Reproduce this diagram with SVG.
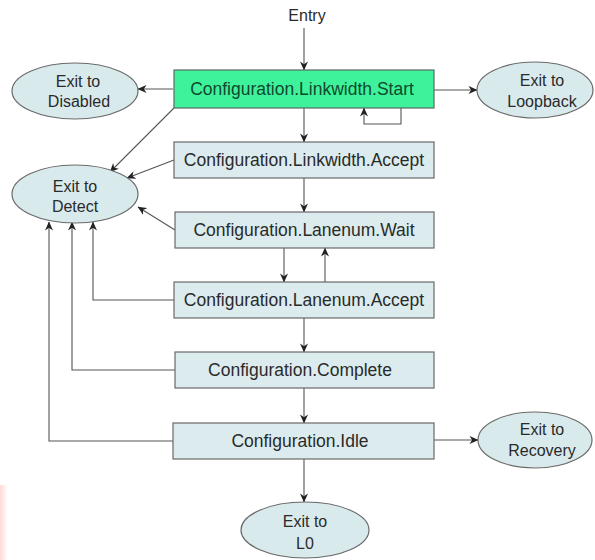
<svg xmlns="http://www.w3.org/2000/svg" width="595" height="560" viewBox="0 0 595 560">
  <style>
    .box { fill: #dcecee; stroke: #6a6a6a; stroke-width: 1.2; }
    .start { fill: #3ef29c; stroke: #5a6a60; stroke-width: 1.2; }
    .exit { fill: #d9eaed; stroke: #6a6a6a; stroke-width: 1.2; }
    .lbl { font-family: "Liberation Sans", Arial, sans-serif; font-size: 16px; fill: #2a2a2a; text-anchor: middle; }
    .state { font-size: 17.5px; }
    .lbl-start { fill: #0f4a2c; }
    .edge { fill: none; stroke: #555; stroke-width: 1.1; }
  </style>
  <defs>
    <marker id="arr" viewBox="0 0 10 10" refX="9.5" refY="5" markerWidth="9" markerHeight="9" markerUnits="userSpaceOnUse" orient="auto">
      <path d="M0,0.5 L10,5 L0,9.5 L3,5 Z" fill="#222"/>
    </marker>
    <linearGradient id="edgeTint" x1="0" y1="0" x2="1" y2="0">
      <stop offset="0" stop-color="#ffd0d0" stop-opacity="0.8"/>
      <stop offset="1" stop-color="#ffd0d0" stop-opacity="0"/>
    </linearGradient>
  </defs>

  <rect width="595" height="560" fill="#ffffff"/>
  <rect x="0" y="485" width="8" height="75" fill="url(#edgeTint)"/>

  <text class="lbl" x="307" y="21">Entry</text>

  <!-- connectors -->
  <g id="connectors">
    <path class="edge" d="M304,28 V70" marker-end="url(#arr)"/>
    <path class="edge" d="M173,89 H138" marker-end="url(#arr)"/>
    <path class="edge" d="M434,90 H477" marker-end="url(#arr)"/>
    <path class="edge" d="M401,108 V124 H364 V108" marker-end="url(#arr)"/>
    <path class="edge" d="M304,108 V142" marker-end="url(#arr)"/>
    <path class="edge" d="M174,108 L110,172" marker-end="url(#arr)"/>
    <path class="edge" d="M174,160 L127,178" marker-end="url(#arr)"/>
    <path class="edge" d="M304,178 V212" marker-end="url(#arr)"/>
    <path class="edge" d="M175,230 L138,207" marker-end="url(#arr)"/>
    <path class="edge" d="M284,248 V282" marker-end="url(#arr)"/>
    <path class="edge" d="M325,282 V248" marker-end="url(#arr)"/>
    <path class="edge" d="M174,300 H93 V222" marker-end="url(#arr)"/>
    <path class="edge" d="M304,318 V352" marker-end="url(#arr)"/>
    <path class="edge" d="M175,370 H72 V222" marker-end="url(#arr)"/>
    <path class="edge" d="M304,388 V423" marker-end="url(#arr)"/>
    <path class="edge" d="M173,441 H49 V222" marker-end="url(#arr)"/>
    <path class="edge" d="M434,440 H478" marker-end="url(#arr)"/>
    <path class="edge" d="M304,459 V502" marker-end="url(#arr)"/>
  </g>

  <!-- states -->
  <g id="linkwidth-start">
    <rect class="start" x="174" y="70" width="260" height="38"/>
    <text class="lbl state lbl-start" x="302" y="95">Configuration.Linkwidth.Start</text>
  </g>
  <g id="linkwidth-accept">
    <rect class="box" x="174" y="142" width="260" height="36"/>
    <text class="lbl state" x="304" y="166">Configuration.Linkwidth.Accept</text>
  </g>
  <g id="lanenum-wait">
    <rect class="box" x="175" y="212" width="259" height="36"/>
    <text class="lbl state" x="304" y="236">Configuration.Lanenum.Wait</text>
  </g>
  <g id="lanenum-accept">
    <rect class="box" x="174" y="282" width="260" height="36"/>
    <text class="lbl state" x="304" y="306">Configuration.Lanenum.Accept</text>
  </g>
  <g id="complete">
    <rect class="box" x="175" y="352" width="259" height="36"/>
    <text class="lbl state" x="300" y="376">Configuration.Complete</text>
  </g>
  <g id="idle">
    <rect class="box" x="173" y="423" width="261" height="36"/>
    <text class="lbl state" x="300" y="447">Configuration.Idle</text>
  </g>

  <!-- exits -->
  <g id="exit-disabled">
    <ellipse class="exit" cx="75" cy="91" rx="63" ry="28"/>
    <text class="lbl" x="78" y="87">Exit to</text>
    <text class="lbl" x="79" y="107">Disabled</text>
  </g>
  <g id="exit-loopback">
    <ellipse class="exit" cx="535" cy="90" rx="58" ry="28"/>
    <text class="lbl" x="542" y="86">Exit to</text>
    <text class="lbl" x="542" y="107">Loopback</text>
  </g>
  <g id="exit-detect">
    <ellipse class="exit" cx="75" cy="194" rx="63" ry="29"/>
    <text class="lbl" x="75" y="192">Exit to</text>
    <text class="lbl" x="75" y="212">Detect</text>
  </g>
  <g id="exit-recovery">
    <ellipse class="exit" cx="535" cy="440" rx="57" ry="28"/>
    <text class="lbl" x="542" y="435">Exit to</text>
    <text class="lbl" x="542" y="456">Recovery</text>
  </g>
  <g id="exit-l0">
    <ellipse class="exit" cx="305" cy="530" rx="64" ry="28"/>
    <text class="lbl" x="305" y="527">Exit to</text>
    <text class="lbl" x="305" y="549">L0</text>
  </g>
</svg>
